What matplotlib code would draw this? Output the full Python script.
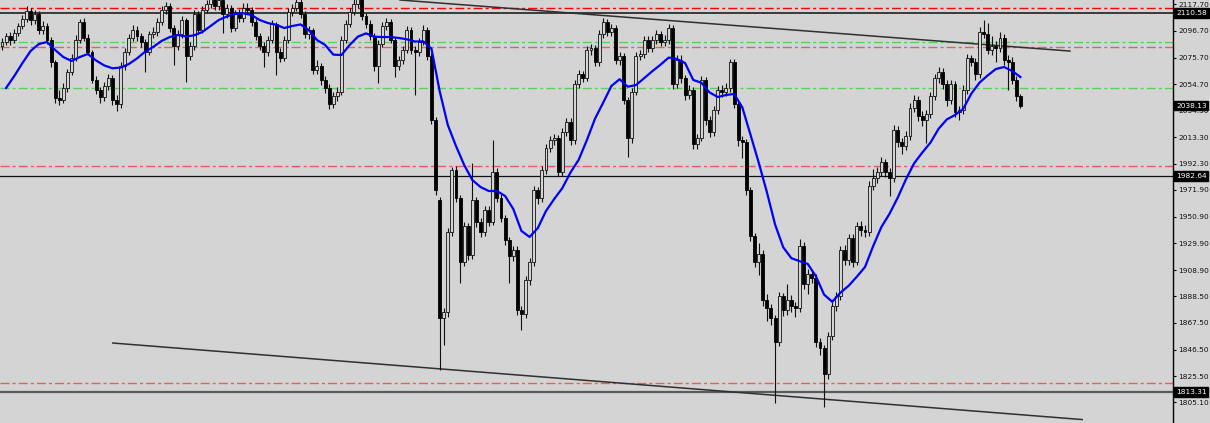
import numpy as np
import matplotlib
matplotlib.use("Agg")
import matplotlib.pyplot as plt
import matplotlib.transforms as mtransforms

# ---------------- data ----------------
opens = [
2084.9, 2088.0, 2092.7, 2089.6, 2095.1, 2100.6, 2106.1, 2112.4, 2105.3, 2110.0,
2097.4, 2100.6, 2089.6, 2072.3, 2044.0, 2042.5, 2051.9, 2064.5, 2075.4, 2089.6,
2103.7, 2091.2, 2080.2, 2058.2, 2050.3, 2044.8, 2053.5, 2059.7, 2042.5, 2039.3,
2069.2, 2080.2, 2091.2, 2097.4, 2092.7, 2088.0, 2080.2, 2094.3, 2095.9, 2103.7,
2113.1, 2116.3, 2099.0, 2084.9, 2094.3, 2105.3, 2077.0, 2084.9, 2110.0, 2097.4,
2113.1, 2117.9, 2122.6, 2116.3, 2121.0, 2110.0, 2114.7, 2099.0, 2110.0, 2106.9,
2114.7, 2113.1, 2103.7, 2092.7, 2084.9, 2080.2, 2089.6, 2102.2, 2080.2, 2075.4,
2089.6, 2111.6, 2114.7, 2119.4, 2110.0, 2094.3, 2097.4, 2066.0, 2069.2, 2058.2,
2051.9, 2039.3, 2045.6, 2048.7, 2089.6, 2102.2, 2111.6, 2117.9, 2122.6, 2108.4,
2102.2, 2092.7, 2069.2, 2086.4, 2100.6, 2103.7, 2089.6, 2069.2, 2073.9, 2081.7,
2097.4, 2081.7, 2080.2, 2088.0, 2097.4, 2077.0, 2026.8, 1964.0, 1871.2, 1876.0,
1938.8, 1987.5, 1965.5, 1915.2, 1943.5, 1920.7, 1963.9, 1946.6, 1938.8, 1956.1,
1946.6, 1985.9, 1965.5, 1949.8, 1932.5, 1919.9, 1924.7, 1877.5, 1874.4, 1901.1,
1915.2, 1971.8, 1965.5, 1987.5, 2004.8, 2011.0, 2012.6, 1985.9, 2017.3, 2025.2,
2011.0, 2055.0, 2062.9, 2059.7, 2081.7, 2083.3, 2072.3, 2094.3, 2103.7, 2095.9,
2099.0, 2073.9, 2077.0, 2042.5, 2012.6, 2048.7, 2077.0, 2078.6, 2089.6, 2083.3,
2089.6, 2094.3, 2088.0, 2089.6, 2099.0, 2055.0, 2073.9, 2059.7, 2046.4, 2050.3,
2007.9, 2012.6, 2058.2, 2026.8, 2017.3, 2034.6, 2050.3, 2048.7, 2051.9, 2072.3,
2039.3, 2011.0, 2009.5, 1971.8, 1935.6, 1915.2, 1921.5, 1885.4, 1879.1, 1871.2,
1852.4, 1888.5, 1877.5, 1885.4, 1880.7, 1879.1, 1927.8, 1897.9, 1905.8, 1902.7,
1852.4, 1847.7, 1827.3, 1857.1, 1880.7, 1888.5, 1924.7, 1916.8, 1934.1, 1915.2,
1943.5, 1940.4, 1938.8, 1974.9, 1981.2, 1985.9, 1993.8, 1985.9, 1981.2, 2018.9,
2009.5, 2006.3, 2014.2, 2036.2, 2042.5, 2029.9, 2026.8, 2031.5, 2045.6, 2059.7,
2064.5, 2055.0, 2042.5, 2055.0, 2033.0, 2034.6, 2050.3, 2075.4, 2072.3, 2062.9,
2095.9, 2094.3, 2081.7, 2084.9, 2083.3, 2091.2, 2073.9, 2072.3, 2058.2, 2045.6,
]

closes = [
2088.0, 2092.7, 2089.6, 2095.1, 2100.6, 2106.1, 2112.4, 2105.3, 2110.0, 2097.4,
2100.6, 2089.6, 2072.3, 2044.0, 2042.5, 2051.9, 2064.5, 2075.4, 2089.6, 2103.7,
2091.2, 2080.2, 2058.2, 2050.3, 2044.8, 2053.5, 2059.7, 2042.5, 2039.3, 2069.2,
2080.2, 2091.2, 2097.4, 2092.7, 2088.0, 2080.2, 2094.3, 2095.9, 2103.7, 2113.1,
2116.3, 2099.0, 2084.9, 2094.3, 2105.3, 2077.0, 2084.9, 2110.0, 2097.4, 2113.1,
2117.9, 2122.6, 2116.3, 2121.0, 2110.0, 2114.7, 2099.0, 2110.0, 2106.9, 2114.7,
2113.1, 2103.7, 2092.7, 2084.9, 2080.2, 2089.6, 2102.2, 2080.2, 2075.4, 2089.6,
2111.6, 2114.7, 2119.4, 2110.0, 2094.3, 2097.4, 2066.0, 2069.2, 2058.2, 2051.9,
2039.3, 2045.6, 2048.7, 2089.6, 2102.2, 2111.6, 2117.9, 2122.6, 2108.4, 2102.2,
2092.7, 2069.2, 2086.4, 2100.6, 2103.7, 2089.6, 2069.2, 2073.9, 2081.7, 2097.4,
2081.7, 2080.2, 2088.0, 2097.4, 2077.0, 2026.8, 1971.8, 1871.2, 1876.0, 1938.8,
1987.5, 1965.5, 1915.2, 1943.5, 1920.7, 1963.9, 1946.6, 1938.8, 1956.1, 1946.6,
1985.9, 1965.5, 1949.8, 1932.5, 1919.9, 1924.7, 1877.5, 1874.4, 1901.1, 1915.2,
1971.8, 1965.5, 1987.5, 2004.8, 2011.0, 2012.6, 1985.9, 2017.3, 2025.2, 2011.0,
2055.0, 2062.9, 2059.7, 2081.7, 2083.3, 2072.3, 2094.3, 2103.7, 2095.9, 2099.0,
2073.9, 2077.0, 2042.5, 2012.6, 2048.7, 2077.0, 2078.6, 2089.6, 2083.3, 2089.6,
2094.3, 2088.0, 2089.6, 2099.0, 2055.0, 2073.9, 2059.7, 2046.4, 2050.3, 2007.9,
2012.6, 2058.2, 2026.8, 2017.3, 2034.6, 2050.3, 2048.7, 2051.9, 2072.3, 2039.3,
2011.0, 2009.5, 1971.8, 1935.6, 1915.2, 1921.5, 1885.4, 1879.1, 1871.2, 1852.4,
1888.5, 1877.5, 1885.4, 1880.7, 1879.1, 1927.8, 1897.9, 1905.8, 1902.7, 1852.4,
1847.7, 1827.3, 1857.1, 1880.7, 1888.5, 1924.7, 1916.8, 1934.1, 1915.2, 1943.5,
1940.4, 1938.8, 1974.9, 1981.2, 1985.9, 1993.8, 1985.9, 1981.2, 2018.9, 2009.5,
2006.3, 2014.2, 2036.2, 2042.5, 2029.9, 2026.8, 2031.5, 2045.6, 2059.7, 2064.5,
2055.0, 2042.5, 2055.0, 2033.0, 2034.6, 2050.3, 2075.4, 2072.3, 2062.9, 2095.9,
2094.3, 2081.7, 2084.9, 2083.3, 2091.2, 2073.9, 2072.3, 2058.2, 2045.6, 2038.13,
]

highs = [
2091.5, 2095.0, 2096.0, 2098.5, 2103.0, 2109.5, 2116.0, 2114.5, 2113.5, 2112.0,
2104.5, 2103.0, 2092.0, 2074.0, 2050.5, 2056.0, 2067.0, 2078.5, 2093.5, 2106.0,
2107.0, 2094.0, 2082.0, 2061.5, 2053.0, 2056.5, 2063.0, 2062.0, 2046.0, 2072.0,
2083.5, 2094.0, 2101.0, 2100.5, 2095.0, 2090.5, 2097.0, 2099.5, 2106.5, 2116.5,
2119.5, 2118.5, 2101.5, 2097.5, 2108.5, 2107.0, 2088.0, 2113.0, 2112.5, 2116.5,
2121.0, 2126.0, 2125.0, 2124.5, 2123.0, 2118.0, 2117.0, 2113.5, 2114.0, 2118.5,
2119.0, 2115.5, 2106.0, 2095.0, 2088.0, 2092.5, 2105.0, 2104.0, 2083.0, 2092.5,
2115.0, 2118.0, 2124.0, 2122.0, 2112.5, 2100.5, 2099.0, 2073.5, 2071.5, 2061.0,
2055.0, 2049.0, 2052.5, 2093.0, 2105.5, 2115.0, 2121.5, 2127.0, 2124.0, 2111.0,
2105.0, 2095.0, 2089.5, 2104.0, 2107.0, 2106.0, 2092.0, 2077.0, 2085.0, 2100.5,
2099.5, 2084.5, 2091.5, 2101.0, 2100.0, 2079.0, 2029.0, 1966.0, 1879.0, 1942.0,
1990.0, 1991.0, 1968.0, 1947.0, 1946.0, 1993.0, 1966.5, 1950.0, 1959.5, 1959.0,
2011.0, 1989.0, 1968.5, 1952.5, 1935.0, 1928.0, 1927.5, 1880.5, 1904.5, 1918.5,
1975.0, 1974.5, 1991.0, 2008.0, 2014.5, 2016.0, 2015.0, 2020.5, 2028.5, 2028.0,
2058.0, 2066.0, 2065.5, 2084.5, 2086.5, 2086.0, 2097.5, 2107.0, 2106.0, 2102.0,
2101.0, 2080.5, 2079.5, 2045.0, 2052.0, 2080.5, 2082.0, 2093.0, 2092.5, 2093.0,
2097.5, 2097.0, 2093.5, 2102.5, 2101.0, 2077.5, 2078.0, 2062.0, 2054.0, 2052.5,
2016.0, 2061.5, 2060.5, 2030.0, 2038.0, 2053.5, 2054.0, 2055.5, 2075.0, 2074.5,
2042.0, 2014.5, 2012.0, 1974.0, 1938.0, 1930.0, 1924.5, 1890.0, 1882.0, 1874.0,
1892.0, 1891.0, 1898.0, 1889.0, 1884.0, 1933.0, 1931.0, 1909.5, 1909.0, 1905.5,
1855.5, 1850.0, 1860.5, 1884.0, 1892.0, 1928.0, 1928.5, 1937.5, 1937.0, 1947.0,
1947.5, 1944.0, 1978.5, 1988.0, 1990.0, 1997.5, 1996.5, 1989.0, 2022.5, 2022.0,
2013.0, 2018.0, 2040.0, 2046.0, 2045.5, 2033.5, 2035.0, 2049.0, 2063.0, 2068.5,
2067.5, 2058.5, 2058.5, 2057.0, 2038.0, 2054.0, 2078.5, 2078.0, 2075.5, 2099.5,
2105.3, 2103.0, 2093.0, 2088.5, 2095.5, 2094.0, 2077.5, 2076.0, 2061.0, 2047.5,
]

lows = [
2082.0, 2085.5, 2086.0, 2087.0, 2093.0, 2098.5, 2104.0, 2101.0, 2102.5, 2094.0,
2094.5, 2086.5, 2068.5, 2040.5, 2038.5, 2040.0, 2048.5, 2062.0, 2073.0, 2087.0,
2088.5, 2077.5, 2055.5, 2047.0, 2040.0, 2041.5, 2050.5, 2038.5, 2033.5, 2036.5,
2066.0, 2077.5, 2088.5, 2089.0, 2084.0, 2064.5, 2077.5, 2091.0, 2093.0, 2101.0,
2110.0, 2096.0, 2070.0, 2082.0, 2091.5, 2056.6, 2074.0, 2082.0, 2094.5, 2095.0,
2110.5, 2115.0, 2113.0, 2113.5, 2095.0, 2107.0, 2096.0, 2096.5, 2103.5, 2104.0,
2110.0, 2100.5, 2089.5, 2081.5, 2068.4, 2077.0, 2087.0, 2062.0, 2072.0, 2073.0,
2087.0, 2108.5, 2112.0, 2107.0, 2091.5, 2090.0, 2062.5, 2063.0, 2054.5, 2048.0,
2035.5, 2036.0, 2042.0, 2046.0, 2087.0, 2099.5, 2109.0, 2115.0, 2105.5, 2099.0,
2089.5, 2065.0, 2055.8, 2084.0, 2097.5, 2087.0, 2060.5, 2066.0, 2071.0, 2079.0,
2078.5, 2046.4, 2077.0, 2085.5, 2074.0, 2024.0, 1968.0, 1830.4, 1850.0, 1872.0,
1935.5, 1962.0, 1898.7, 1912.0, 1917.0, 1917.5, 1943.0, 1935.0, 1935.5, 1943.5,
1944.0, 1962.0, 1946.5, 1928.5, 1898.7, 1916.0, 1874.0, 1861.8, 1871.0, 1897.5,
1912.0, 1961.0, 1962.5, 1984.5, 2001.5, 2007.5, 1982.5, 1983.0, 2014.0, 2007.5,
2008.0, 2052.0, 2056.5, 2057.0, 2078.0, 2069.0, 2069.5, 2091.0, 2092.5, 2092.5,
2070.5, 2070.0, 2039.0, 1997.7, 2009.0, 2046.0, 2074.0, 2075.5, 2080.0, 2080.5,
2086.5, 2085.0, 2084.5, 2086.5, 2051.0, 2052.0, 2056.0, 2042.5, 2043.0, 2004.0,
2004.0, 2010.0, 2023.0, 2013.5, 2014.0, 2031.5, 2045.0, 2045.5, 2049.0, 2036.0,
2006.5, 1997.0, 1968.0, 1932.0, 1911.0, 1905.0, 1881.0, 1869.0, 1866.0, 1804.5,
1849.0, 1873.0, 1874.0, 1876.0, 1872.0, 1876.0, 1894.0, 1890.0, 1898.5, 1848.5,
1842.0, 1801.3, 1823.0, 1854.0, 1877.0, 1885.5, 1913.0, 1912.5, 1911.0, 1912.5,
1936.0, 1934.5, 1935.5, 1971.5, 1977.5, 1982.5, 1982.0, 1967.0, 1978.0, 2005.5,
2000.0, 2003.0, 2011.0, 2033.0, 2026.0, 2022.0, 2009.0, 2028.5, 2042.5, 2056.0,
2051.0, 2038.0, 2039.5, 2029.5, 2027.0, 2031.5, 2047.0, 2069.5, 2058.0, 2060.0,
2091.0, 2078.5, 2078.0, 2072.0, 2080.0, 2070.0, 2050.0, 2055.0, 2042.0, 2036.0,
]

# moving average, read at every second bar (odd bar numbers)
ma_values = [
2051.9, 2061.3, 2071.5, 2081.0, 2086.4, 2088.0, 2081.7, 2076.2, 2073.1, 2076.2,
2078.6, 2073.5, 2069.6, 2067.4, 2067.9, 2070.7, 2075.1, 2080.4, 2084.2, 2088.8,
2091.9, 2093.5, 2092.3, 2093.3, 2095.9, 2100.6, 2105.3, 2108.1, 2110.2, 2110.6,
2109.2, 2105.3, 2102.9, 2101.6, 2099.0, 2100.6, 2101.8, 2097.4, 2089.6, 2085.7,
2078.1, 2077.8, 2085.7, 2092.2, 2094.8, 2092.2, 2091.9, 2091.9, 2091.2, 2090.1,
2088.4, 2088.5, 2082.8, 2049.5, 2022.8, 2006.3, 1991.4, 1979.6, 1974.1, 1971.0,
1971.0, 1967.1, 1956.9, 1939.6, 1934.9, 1941.9, 1955.3, 1964.7, 1973.3, 1985.6,
1995.6, 2011.0, 2027.9, 2040.5, 2053.5, 2058.8, 2052.9, 2054.2, 2059.6, 2065.1,
2070.2, 2075.8, 2074.7, 2071.5, 2058.2, 2056.0, 2048.4, 2044.8, 2046.4, 2047.2,
2036.7, 2015.2, 1993.4, 1970.2, 1944.8, 1926.8, 1918.2, 1915.9, 1913.7, 1904.0,
1889.6, 1884.0, 1891.2, 1896.6, 1903.7, 1911.3, 1927.8, 1942.7, 1953.2, 1965.8,
1980.1, 1992.7, 2001.2, 2009.0, 2019.9, 2027.2, 2030.7, 2035.5, 2047.5, 2056.1,
2061.8, 2066.8, 2068.4, 2065.2, 2060.5,
]

tick_values = [2117.70, 2096.70, 2075.70, 2054.70, 2034.30, 2013.30, 1992.30,
               1971.90, 1950.90, 1929.90, 1908.90, 1888.50, 1867.50, 1846.50,
               1825.50, 1805.10]

red_levels = [2114.7, 2084.1, 1990.6, 1820.2]
green_levels = [2088.0, 2051.9]
black_levels = [2110.58, 1982.64, 1813.31]
price_tags = [2110.58, 2038.13, 1982.64, 1813.31]

# trend lines (bar number, price)
upper_trend = ([97.3, 261.1], [2121.0, 2080.9])
lower_trend = ([27.1, 264.1], [1851.6, 1791.5])

# ---------------- drawing ----------------
BG = "#d4d4d4"
W, H = 1210, 423
fig = plt.figure(figsize=(W / 100, H / 100), dpi=100, facecolor=BG)
ax = fig.add_axes([0, 0, 1173 / W, 1])
ax.set_facecolor(BG)

n = len(closes)
x = np.arange(n)
o = np.array(opens); c = np.array(closes)
hi = np.array(highs); lo = np.array(lows)

ax.set_xlim(-0.49, 286.3)
ax.set_ylim(1788.8, 2121.0)

dash = (0, (6.5, 2.2, 2.2, 2.2))
for i, lv in enumerate(red_levels):
    col = "#ff0000" if i == 0 else "#f05a5a"
    ax.axhline(lv, color=col, lw=1.0, linestyle=dash, zorder=1)
for lv in green_levels:
    ax.axhline(lv, color="#5ad25a", lw=1.0, linestyle=dash, zorder=1)
ax.axhline(black_levels[0], color="#202020", lw=1.2, zorder=1)
ax.axhline(black_levels[1], color="#101010", lw=0.9, zorder=1)
ax.axhline(black_levels[2], color="#5a5a5a", lw=1.6, zorder=1)

ax.plot(*upper_trend, color="#303030", lw=1.1, zorder=2)
ax.plot(*lower_trend, color="#303030", lw=1.1, zorder=2)

# wicks
ax.vlines(x, lo, hi, color="#111111", lw=0.8, zorder=3)
# bodies
bull = c >= o
bottoms = np.minimum(o, c)
heights = np.maximum(np.abs(c - o), 0.6)
ax.bar(x[bull], heights[bull], bottom=bottoms[bull], width=0.72,
       color=BG, edgecolor="#111111", linewidth=0.6, zorder=4)
ax.bar(x[~bull], heights[~bull], bottom=bottoms[~bull], width=0.72,
       color="#000000", edgecolor="#000000", linewidth=0.6, zorder=4)

# moving average
ma_x = np.arange(len(ma_values)) * 2 + 1
ax.plot(ma_x, ma_values, color="#0000ff", lw=1.6, zorder=5)

# axes styling
for s in ["left", "top", "bottom"]:
    ax.spines[s].set_visible(False)
ax.spines["right"].set_color("#000000")
ax.spines["right"].set_linewidth(1.0)
ax.set_xticks([])
ax.yaxis.tick_right()
ax.set_yticks(tick_values)
ax.set_yticklabels([f"{v:.2f}" for v in tick_values])
ax.tick_params(axis="y", direction="out", length=2.5, width=0.8,
               colors="#000000", labelsize=5.3, pad=1.5, labelcolor="#111111")

trans = mtransforms.blended_transform_factory(ax.transAxes, ax.transData)
for p in price_tags:
    ax.text(1.0 + 3 / 1173, p, f"{p:.2f}", transform=trans, ha="left",
            va="center", fontsize=5.3, color="white", clip_on=False, zorder=10,
            bbox=dict(boxstyle="square,pad=0.25", fc="black", ec="black"))

fig.savefig("out.png", dpi=100, facecolor=BG)
